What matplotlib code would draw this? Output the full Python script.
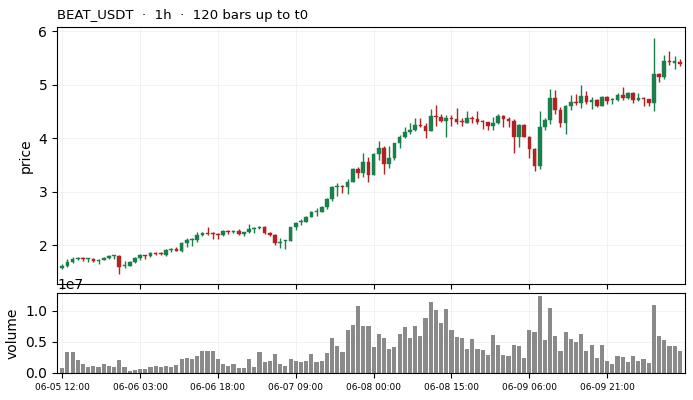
import matplotlib
matplotlib.use("Agg")
import matplotlib.pyplot as plt
import numpy as np

title = "BEAT_USDT  ·  1h  ·  120 bars up to t0"
tick_labels = ["06-05 12:00", "06-06 03:00", "06-06 18:00", "06-07 09:00",
               "06-08 00:00", "06-08 15:00", "06-09 06:00", "06-09 21:00"]
tick_positions = [0, 15, 30, 45, 60, 75, 90, 105]

opens = [1.577, 1.608, 1.683, 1.739, 1.745, 1.732, 1.732, 1.701, 1.726, 1.757,
         1.788, 1.795, 1.601, 1.614, 1.676, 1.763, 1.813, 1.801, 1.857, 1.838,
         1.820, 1.913, 1.932, 1.894, 2.044, 2.088, 2.100, 2.187, 2.219, 2.225,
         2.206, 2.194, 2.262, 2.250, 2.268, 2.212, 2.243, 2.306, 2.318, 2.337,
         2.225, 2.187, 2.044, 2.069, 2.075, 2.337, 2.430, 2.437, 2.529, 2.617,
         2.617, 2.704, 2.860, 3.084, 3.103, 3.084, 3.183, 3.420, 3.345, 3.551,
         3.314, 3.707, 3.813, 3.520, 3.632, 3.906, 4.018, 4.112, 4.149, 4.243,
         4.224, 4.137, 4.411, 4.387, 4.324, 4.374, 4.355, 4.306, 4.287, 4.374,
         4.355, 4.306, 4.293, 4.231, 4.287, 4.411, 4.355, 4.324, 4.025, 4.250,
         4.019, 3.801, 3.483, 4.206, 4.340, 4.748, 4.524, 4.287, 4.598, 4.673,
         4.661, 4.785, 4.679, 4.711, 4.598, 4.767, 4.704, 4.717, 4.804, 4.748,
         4.841, 4.711, 4.748, 4.729, 4.661, 5.197, 5.147, 5.440, 5.405, 5.421]
highs = [1.639, 1.732, 1.770, 1.782, 1.770, 1.757, 1.757, 1.745, 1.782, 1.813,
         1.820, 1.820, 1.695, 1.707, 1.776, 1.832, 1.820, 1.869, 1.876, 1.869,
         1.926, 1.950, 1.963, 2.050, 2.125, 2.131, 2.237, 2.250, 2.331, 2.237,
         2.225, 2.287, 2.287, 2.287, 2.293, 2.250, 2.387, 2.331, 2.356, 2.349,
         2.250, 2.200, 2.125, 2.100, 2.343, 2.424, 2.480, 2.536, 2.629, 2.691,
         2.722, 2.884, 3.103, 3.152, 3.127, 3.227, 3.433, 3.464, 3.719, 3.638,
         3.726, 3.937, 3.850, 3.844, 3.912, 4.056, 4.199, 4.274, 4.367, 4.367,
         4.286, 4.536, 4.617, 4.443, 4.424, 4.424, 4.555, 4.380, 4.499, 4.411,
         4.499, 4.343, 4.306, 4.387, 4.443, 4.430, 4.387, 4.349, 4.268, 4.256,
         4.038, 3.807, 4.511, 4.368, 4.910, 4.891, 4.573, 4.611, 4.798, 4.817,
         4.991, 4.879, 4.761, 4.729, 4.779, 4.779, 4.742, 4.848, 4.947, 4.860,
         4.860, 4.835, 4.767, 4.736, 5.869, 5.222, 5.552, 5.620, 5.533, 5.471]
lows = [1.545, 1.595, 1.664, 1.720, 1.701, 1.676, 1.683, 1.645, 1.714, 1.739,
        1.745, 1.464, 1.577, 1.601, 1.664, 1.726, 1.745, 1.776, 1.807, 1.807,
        1.801, 1.876, 1.888, 1.876, 1.957, 1.988, 2.063, 2.175, 2.181, 2.106,
        2.106, 2.175, 2.200, 2.225, 2.194, 2.162, 2.231, 2.231, 2.293, 2.212,
        2.162, 2.000, 1.938, 1.919, 2.069, 2.287, 2.380, 2.424, 2.517, 2.536,
        2.610, 2.679, 2.828, 2.909, 2.965, 2.953, 3.177, 3.246, 3.277, 3.171,
        3.308, 3.582, 3.321, 3.433, 3.582, 3.806, 4.000, 4.068, 4.137, 4.199,
        4.006, 4.137, 4.224, 4.306, 4.013, 4.218, 4.256, 4.218, 4.274, 4.274,
        4.268, 4.175, 4.144, 4.144, 4.256, 4.200, 4.200, 3.714, 3.838, 4.019,
        3.620, 3.383, 3.415, 4.144, 4.262, 4.443, 4.212, 4.081, 4.517, 4.611,
        4.555, 4.630, 4.536, 4.574, 4.592, 4.642, 4.636, 4.698, 4.717, 4.729,
        4.661, 4.698, 4.592, 4.592, 4.499, 5.053, 5.109, 5.359, 5.296, 5.346]
closes = [1.614, 1.683, 1.745, 1.763, 1.732, 1.751, 1.701, 1.726, 1.763, 1.801,
          1.807, 1.589, 1.620, 1.689, 1.763, 1.813, 1.801, 1.857, 1.838, 1.826,
          1.913, 1.932, 1.894, 2.038, 2.100, 2.113, 2.187, 2.225, 2.200, 2.206,
          2.194, 2.262, 2.250, 2.268, 2.212, 2.243, 2.300, 2.325, 2.337, 2.225,
          2.187, 2.038, 2.063, 2.088, 2.337, 2.412, 2.455, 2.524, 2.617, 2.642,
          2.710, 2.860, 3.084, 3.103, 3.078, 3.177, 3.420, 3.345, 3.551, 3.314,
          3.707, 3.813, 3.520, 3.626, 3.906, 4.018, 4.112, 4.149, 4.243, 4.224,
          4.137, 4.411, 4.399, 4.324, 4.374, 4.362, 4.306, 4.293, 4.374, 4.362,
          4.306, 4.293, 4.231, 4.281, 4.411, 4.362, 4.324, 4.025, 4.250, 4.025,
          3.801, 3.483, 4.206, 4.340, 4.748, 4.524, 4.287, 4.598, 4.673, 4.661,
          4.785, 4.679, 4.711, 4.598, 4.767, 4.698, 4.717, 4.804, 4.748, 4.841,
          4.711, 4.748, 4.736, 4.661, 5.197, 5.147, 5.440, 5.427, 5.434, 5.383]
volumes_e7 = [0.085, 0.341, 0.341, 0.213, 0.149, 0.101, 0.117, 0.101, 0.149, 0.117,
              0.101, 0.213, 0.101, 0.037, 0.053, 0.069, 0.069, 0.101, 0.117, 0.101,
              0.117, 0.101, 0.133, 0.229, 0.245, 0.229, 0.277, 0.357, 0.357, 0.357,
              0.229, 0.149, 0.117, 0.149, 0.085, 0.085, 0.229, 0.101, 0.341, 0.181,
              0.197, 0.309, 0.149, 0.117, 0.229, 0.197, 0.181, 0.197, 0.309, 0.181,
              0.197, 0.325, 0.564, 0.437, 0.341, 0.692, 0.772, 1.076, 0.756, 0.756,
              0.421, 0.628, 0.564, 0.389, 0.421, 0.628, 0.740, 0.564, 0.756, 0.596,
              0.884, 1.139, 1.012, 0.804, 1.028, 0.692, 0.580, 0.564, 0.389, 0.548,
              0.389, 0.373, 0.293, 0.612, 0.453, 0.293, 0.277, 0.453, 0.437, 0.245,
              0.692, 0.660, 1.235, 0.532, 1.044, 0.596, 0.357, 0.660, 0.548, 0.500,
              0.628, 0.357, 0.453, 0.245, 0.453, 0.197, 0.149, 0.277, 0.261, 0.181,
              0.277, 0.197, 0.229, 0.165, 1.092, 0.596, 0.532, 0.437, 0.437, 0.357]

GREEN = "#1a7f4b"
RED = "#b22222"

o = np.array(opens); h = np.array(highs); l = np.array(lows); c = np.array(closes)
v = np.array(volumes_e7) * 1e7
x = np.arange(len(o))
up = c >= o
colors = np.where(up, GREEN, RED)

fig = plt.figure(figsize=(6.93, 4.0), dpi=100)
ax = fig.add_axes([0.0823, 0.29, 0.9062, 0.6425])
axv = fig.add_axes([0.0823, 0.0675, 0.9062, 0.2], sharex=ax)

ax.vlines(x, l, h, colors=colors, linewidth=1.0, zorder=2)
body_bottom = np.minimum(o, c)
body_h = np.maximum(np.abs(c - o), 0.02)
ax.bar(x, body_h, bottom=body_bottom, width=0.7, color=colors, edgecolor=colors,
       linewidth=0.3, zorder=3)

axv.bar(x, v, width=0.8, color="#8a8a8a", zorder=2)

for a in (ax, axv):
    a.grid(True, color="#e6e6e6", linewidth=0.6, alpha=0.6, zorder=0)
    a.set_axisbelow(True)

ax.set_xlim(-1, 120)
ax.set_ylim(1.271, 6.075)
ax.set_yticks([2, 3, 4, 5, 6])
axv.set_ylim(0, 1.285e7)
axv.set_yticks([0, 0.5e7, 1.0e7])

axv.set_xticks(tick_positions)
axv.set_xticklabels(tick_labels, fontsize=6.5)
plt.setp(ax.get_xticklabels(), visible=False)

ax.set_ylabel("price", fontsize=10)
axv.set_ylabel("volume", fontsize=10)
ax.set_title(title, loc="left", fontsize=9.5)

fig.savefig("out.png", dpi=100)
